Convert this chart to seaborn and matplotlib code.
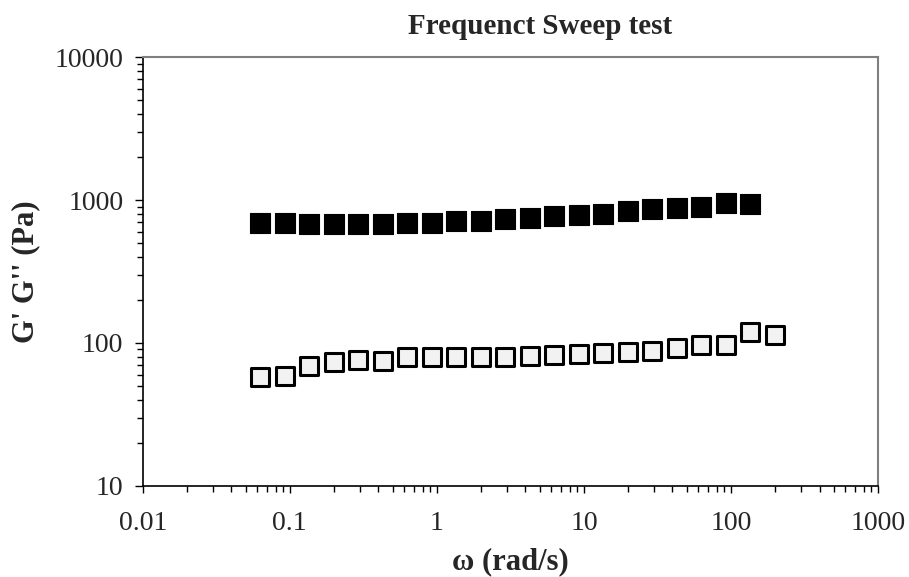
import numpy as np
import pandas as pd
import matplotlib
matplotlib.use("Agg")
import matplotlib.pyplot as plt
from matplotlib.ticker import LogLocator, FixedLocator, FixedFormatter, NullFormatter
import seaborn as sns

# angular frequency (rad/s), 6 points per decade starting at 0.0628
omega = [0.0628, 0.0922, 0.135, 0.199, 0.292, 0.428, 0.628, 0.922, 1.35, 1.99,
         2.92, 4.28, 6.28, 9.22, 13.5, 19.9, 29.2, 42.8, 62.8, 92.2, 135, 199]

# storage modulus G' (filled squares)
g_storage = [693, 686, 676, 676, 676, 676, 686, 693, 710, 713, 736, 752, 773,
             789, 802, 838, 861, 875, 894, 948, 933]

# loss modulus G'' (open squares)
g_loss = [58, 59, 69, 73, 76, 75, 80, 80, 80, 80, 80, 81, 82, 83, 85, 86, 88,
          92, 96, 97, 119, 114]

x_ticks = [0.01, 0.1, 1, 10, 100, 1000]
x_labels = ["0.01", "0.1", "1", "10", "100", "1000"]
y_ticks = [10, 100, 1000, 10000]
y_labels = ["10", "100", "1000", "10000"]

df_storage = pd.DataFrame({"omega": omega[:len(g_storage)], "G": g_storage})
df_loss = pd.DataFrame({"omega": omega, "G": g_loss})

sns.set_style("ticks")
plt.rcParams["font.family"] = ["Liberation Serif", "DejaVu Serif"]

fig = plt.figure(figsize=(9.09, 5.77), dpi=100)
ax = fig.add_axes([0.157, 0.158, 0.809, 0.743])

sns.scatterplot(data=df_storage, x="omega", y="G", ax=ax, marker="s", s=200,
                color="black", edgecolor="black", linewidth=0.8, zorder=3)
sns.scatterplot(data=df_loss, x="omega", y="G", ax=ax, marker="s", s=150,
                color="#f2f2f2", edgecolor="black", linewidth=2.2, zorder=3)

ax.set_xscale("log")
ax.set_yscale("log")
ax.set_xlim(0.01, 1000)
ax.set_ylim(10, 10000)

ax.xaxis.set_major_locator(FixedLocator(x_ticks))
ax.xaxis.set_major_formatter(FixedFormatter(x_labels))
ax.yaxis.set_major_locator(FixedLocator(y_ticks))
ax.yaxis.set_major_formatter(FixedFormatter(y_labels))
ax.xaxis.set_minor_locator(LogLocator(base=10, subs=np.arange(2, 10), numticks=20))
ax.yaxis.set_minor_locator(LogLocator(base=10, subs=np.arange(2, 10), numticks=20))
ax.xaxis.set_minor_formatter(NullFormatter())
ax.yaxis.set_minor_formatter(NullFormatter())

ax.tick_params(axis="both", which="major", direction="out", length=6, width=1,
               color="black", labelsize=20, pad=8)
ax.tick_params(axis="both", which="minor", direction="out", length=4, width=1,
               color="black")
ax.tick_params(axis="x", which="major", length=5, pad=13)

for side in ["left", "bottom"]:
    ax.spines[side].set_color("black")
    ax.spines[side].set_linewidth(1.2)
for side in ["top", "right"]:
    ax.spines[side].set_visible(True)
    ax.spines[side].set_color("#7f7f7f")
    ax.spines[side].set_linewidth(1.5)

ax.set_xlabel("ω (rad/s)", fontsize=22, fontweight="bold", labelpad=8)
ax.set_ylabel("G' G'' (Pa)", fontsize=22, fontweight="bold", labelpad=10)
ax.set_title("Frequenct Sweep test", fontsize=21, fontweight="bold", pad=17,
             x=0.54)

fig.savefig("out.png", dpi=100)
